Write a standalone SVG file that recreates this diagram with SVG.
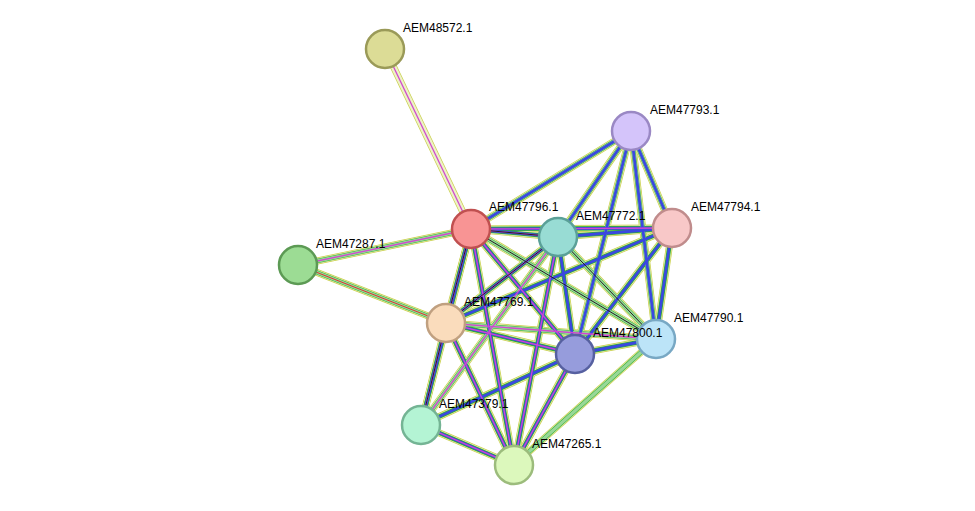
<svg xmlns="http://www.w3.org/2000/svg" xmlns:xlink="http://www.w3.org/1999/xlink" width="975" height="511" viewBox="0 0 975 511">
<style>
.e{fill:none}
.y{stroke:#c8d048;stroke-width:7}
.w{stroke:#ffffff;stroke-width:5.6;opacity:.7}
.g{stroke:#30b030;stroke-width:4.4}
.b{stroke:#3a48e0;stroke-width:2.8}
.m{stroke:#d048d0;stroke-width:1.3}
.n{stroke-width:2.5}
text{font-family:"Liberation Sans",Arial,sans-serif;font-size:12px;fill:#000}
</style>
<defs>
<line id="e1" x1="385" y1="49" x2="471" y2="229"/>
<line id="e2" x1="631" y1="131" x2="471" y2="229"/>
<line id="e3" x1="631" y1="131" x2="558" y2="237"/>
<line id="e4" x1="631" y1="131" x2="672" y2="228"/>
<line id="e5" x1="631" y1="131" x2="575" y2="354"/>
<line id="e6" x1="631" y1="131" x2="656" y2="339"/>
<line id="e7" x1="471" y1="229" x2="558" y2="237"/>
<line id="e8" x1="471" y1="229" x2="672" y2="228"/>
<line id="e9" x1="471" y1="229" x2="298" y2="265"/>
<line id="e10" x1="471" y1="229" x2="446" y2="323"/>
<line id="e11" x1="471" y1="229" x2="575" y2="354"/>
<line id="e12" x1="471" y1="229" x2="656" y2="339"/>
<line id="e13" x1="471" y1="229" x2="421" y2="425"/>
<line id="e14" x1="471" y1="229" x2="514" y2="465"/>
<line id="e15" x1="558" y1="237" x2="672" y2="228"/>
<line id="e16" x1="558" y1="237" x2="446" y2="323"/>
<line id="e17" x1="558" y1="237" x2="575" y2="354"/>
<line id="e18" x1="558" y1="237" x2="656" y2="339"/>
<line id="e19" x1="558" y1="237" x2="514" y2="465"/>
<line id="e20" x1="558" y1="237" x2="421" y2="425"/>
<line id="e21" x1="672" y1="228" x2="446" y2="323"/>
<line id="e22" x1="672" y1="228" x2="575" y2="354"/>
<line id="e23" x1="672" y1="228" x2="656" y2="339"/>
<line id="e24" x1="298" y1="265" x2="446" y2="323"/>
<line id="e25" x1="446" y1="323" x2="575" y2="354"/>
<line id="e26" x1="446" y1="323" x2="656" y2="339"/>
<line id="e27" x1="446" y1="323" x2="421" y2="425"/>
<line id="e28" x1="446" y1="323" x2="514" y2="465"/>
<line id="e29" x1="575" y1="354" x2="656" y2="339"/>
<line id="e30" x1="575" y1="354" x2="421" y2="425"/>
<line id="e31" x1="575" y1="354" x2="514" y2="465"/>
<line id="e32" x1="656" y1="339" x2="514" y2="465"/>
<line id="e33" x1="421" y1="425" x2="514" y2="465"/>
</defs>
<rect width="975" height="511" fill="#fff"/>
<g id="connectors" class="e">
<g class="y"><use xlink:href="#e1"/><use xlink:href="#e2"/><use xlink:href="#e3"/><use xlink:href="#e4"/><use xlink:href="#e5"/><use xlink:href="#e6"/><use xlink:href="#e7"/><use xlink:href="#e8"/><use xlink:href="#e9"/><use xlink:href="#e10"/><use xlink:href="#e11"/><use xlink:href="#e12"/><use xlink:href="#e13"/><use xlink:href="#e14"/><use xlink:href="#e15"/><use xlink:href="#e16"/><use xlink:href="#e17"/><use xlink:href="#e18"/><use xlink:href="#e19"/><use xlink:href="#e20"/><use xlink:href="#e21"/><use xlink:href="#e22"/><use xlink:href="#e23"/><use xlink:href="#e24"/><use xlink:href="#e25"/><use xlink:href="#e26"/><use xlink:href="#e27"/><use xlink:href="#e28"/><use xlink:href="#e29"/><use xlink:href="#e30"/><use xlink:href="#e31"/><use xlink:href="#e32"/><use xlink:href="#e33"/></g>
<g class="w"><use xlink:href="#e1"/><use xlink:href="#e2"/><use xlink:href="#e3"/><use xlink:href="#e4"/><use xlink:href="#e5"/><use xlink:href="#e6"/><use xlink:href="#e7"/><use xlink:href="#e8"/><use xlink:href="#e9"/><use xlink:href="#e10"/><use xlink:href="#e11"/><use xlink:href="#e12"/><use xlink:href="#e13"/><use xlink:href="#e14"/><use xlink:href="#e15"/><use xlink:href="#e16"/><use xlink:href="#e17"/><use xlink:href="#e18"/><use xlink:href="#e19"/><use xlink:href="#e20"/><use xlink:href="#e21"/><use xlink:href="#e22"/><use xlink:href="#e23"/><use xlink:href="#e24"/><use xlink:href="#e25"/><use xlink:href="#e26"/><use xlink:href="#e27"/><use xlink:href="#e28"/><use xlink:href="#e29"/><use xlink:href="#e30"/><use xlink:href="#e31"/><use xlink:href="#e32"/><use xlink:href="#e33"/></g>
<g class="g"><use xlink:href="#e2"/><use xlink:href="#e3"/><use xlink:href="#e4"/><use xlink:href="#e5"/><use xlink:href="#e6"/><use xlink:href="#e7"/><use xlink:href="#e8"/><use xlink:href="#e9"/><use xlink:href="#e10"/><use xlink:href="#e11"/><use xlink:href="#e12"/><use xlink:href="#e13"/><use xlink:href="#e14"/><use xlink:href="#e15"/><use xlink:href="#e16"/><use xlink:href="#e17"/><use xlink:href="#e18"/><use xlink:href="#e19"/><use xlink:href="#e20"/><use xlink:href="#e21"/><use xlink:href="#e22"/><use xlink:href="#e23"/><use xlink:href="#e24"/><use xlink:href="#e25"/><use xlink:href="#e26"/><use xlink:href="#e27"/><use xlink:href="#e28"/><use xlink:href="#e29"/><use xlink:href="#e30"/><use xlink:href="#e31"/><use xlink:href="#e32"/><use xlink:href="#e33"/></g>
<g class="w" style="stroke-width:3.4;opacity:.5"><use xlink:href="#e2"/><use xlink:href="#e3"/><use xlink:href="#e4"/><use xlink:href="#e5"/><use xlink:href="#e6"/><use xlink:href="#e9"/><use xlink:href="#e12"/><use xlink:href="#e18"/><use xlink:href="#e20"/><use xlink:href="#e24"/><use xlink:href="#e26"/><use xlink:href="#e32"/></g>
<g class="b"><use xlink:href="#e2"/><use xlink:href="#e3"/><use xlink:href="#e4"/><use xlink:href="#e5"/><use xlink:href="#e6"/><use xlink:href="#e7"/><use xlink:href="#e8"/><use xlink:href="#e10"/><use xlink:href="#e11"/><use xlink:href="#e13"/><use xlink:href="#e14"/><use xlink:href="#e15"/><use xlink:href="#e16"/><use xlink:href="#e17"/><use xlink:href="#e19"/><use xlink:href="#e21"/><use xlink:href="#e22"/><use xlink:href="#e23"/><use xlink:href="#e25"/><use xlink:href="#e27"/><use xlink:href="#e28"/><use xlink:href="#e29"/><use xlink:href="#e30"/><use xlink:href="#e31"/><use xlink:href="#e33"/></g>
<g class="m"><use xlink:href="#e1"/><use xlink:href="#e7"/><use xlink:href="#e8"/><use xlink:href="#e9"/><use xlink:href="#e10"/><use xlink:href="#e11"/><use xlink:href="#e14"/><use xlink:href="#e16"/><use xlink:href="#e19"/><use xlink:href="#e20"/><use xlink:href="#e25"/><use xlink:href="#e26"/><use xlink:href="#e27"/><use xlink:href="#e28"/><use xlink:href="#e31"/><use xlink:href="#e33"/></g>
<g stroke="#222" stroke-width="1"><use xlink:href="#e7"/><use xlink:href="#e10"/><use xlink:href="#e12"/><use xlink:href="#e16"/><use xlink:href="#e18"/><use xlink:href="#e27"/></g>
<g stroke="#e03030" stroke-width="1"><use xlink:href="#e24"/></g>
</g>
<g id="AEM48572.1"><circle class="n" cx="385" cy="49" r="19" fill="#dcdc96" stroke="#9a9a58"/><text x="403" y="32">AEM48572.1</text></g>
<g id="AEM47793.1"><circle class="n" cx="631" cy="131" r="19" fill="#d4c4fa" stroke="#9a88c4"/><text x="650" y="114">AEM47793.1</text></g>
<g id="AEM47796.1"><circle class="n" cx="471" cy="229" r="19" fill="#f89494" stroke="#c05050"/><text x="489" y="211">AEM47796.1</text></g>
<g id="AEM47772.1"><circle class="n" cx="558" cy="237" r="19" fill="#98dcd4" stroke="#5aa098"/><text x="576" y="220">AEM47772.1</text></g>
<g id="AEM47794.1"><circle class="n" cx="672" cy="228" r="19" fill="#f8c8c8" stroke="#c08c8c"/><text x="691" y="211">AEM47794.1</text></g>
<g id="AEM47287.1"><circle class="n" cx="298" cy="265" r="19" fill="#9cdc94" stroke="#5c9a54"/><text x="316" y="248">AEM47287.1</text></g>
<g id="AEM47769.1"><circle class="n" cx="446" cy="323" r="19" fill="#fadcbc" stroke="#c0a080"/><text x="464" y="306">AEM47769.1</text></g>
<g id="AEM47790.1"><circle class="n" cx="656" cy="339" r="19" fill="#bce4f8" stroke="#78a8c4"/><text x="674" y="322">AEM47790.1</text></g>
<g id="AEM47800.1"><circle class="n" cx="575" cy="354" r="19" fill="#969cdc" stroke="#5660a0"/><text x="593" y="337">AEM47800.1</text></g>
<g id="AEM47379.1"><circle class="n" cx="421" cy="425" r="19" fill="#b4f4d4" stroke="#74b494"/><text x="439" y="408">AEM47379.1</text></g>
<g id="AEM47265.1"><circle class="n" cx="514" cy="465" r="19" fill="#dcf8bc" stroke="#9cbc7c"/><text x="532" y="448">AEM47265.1</text></g>
</svg>
